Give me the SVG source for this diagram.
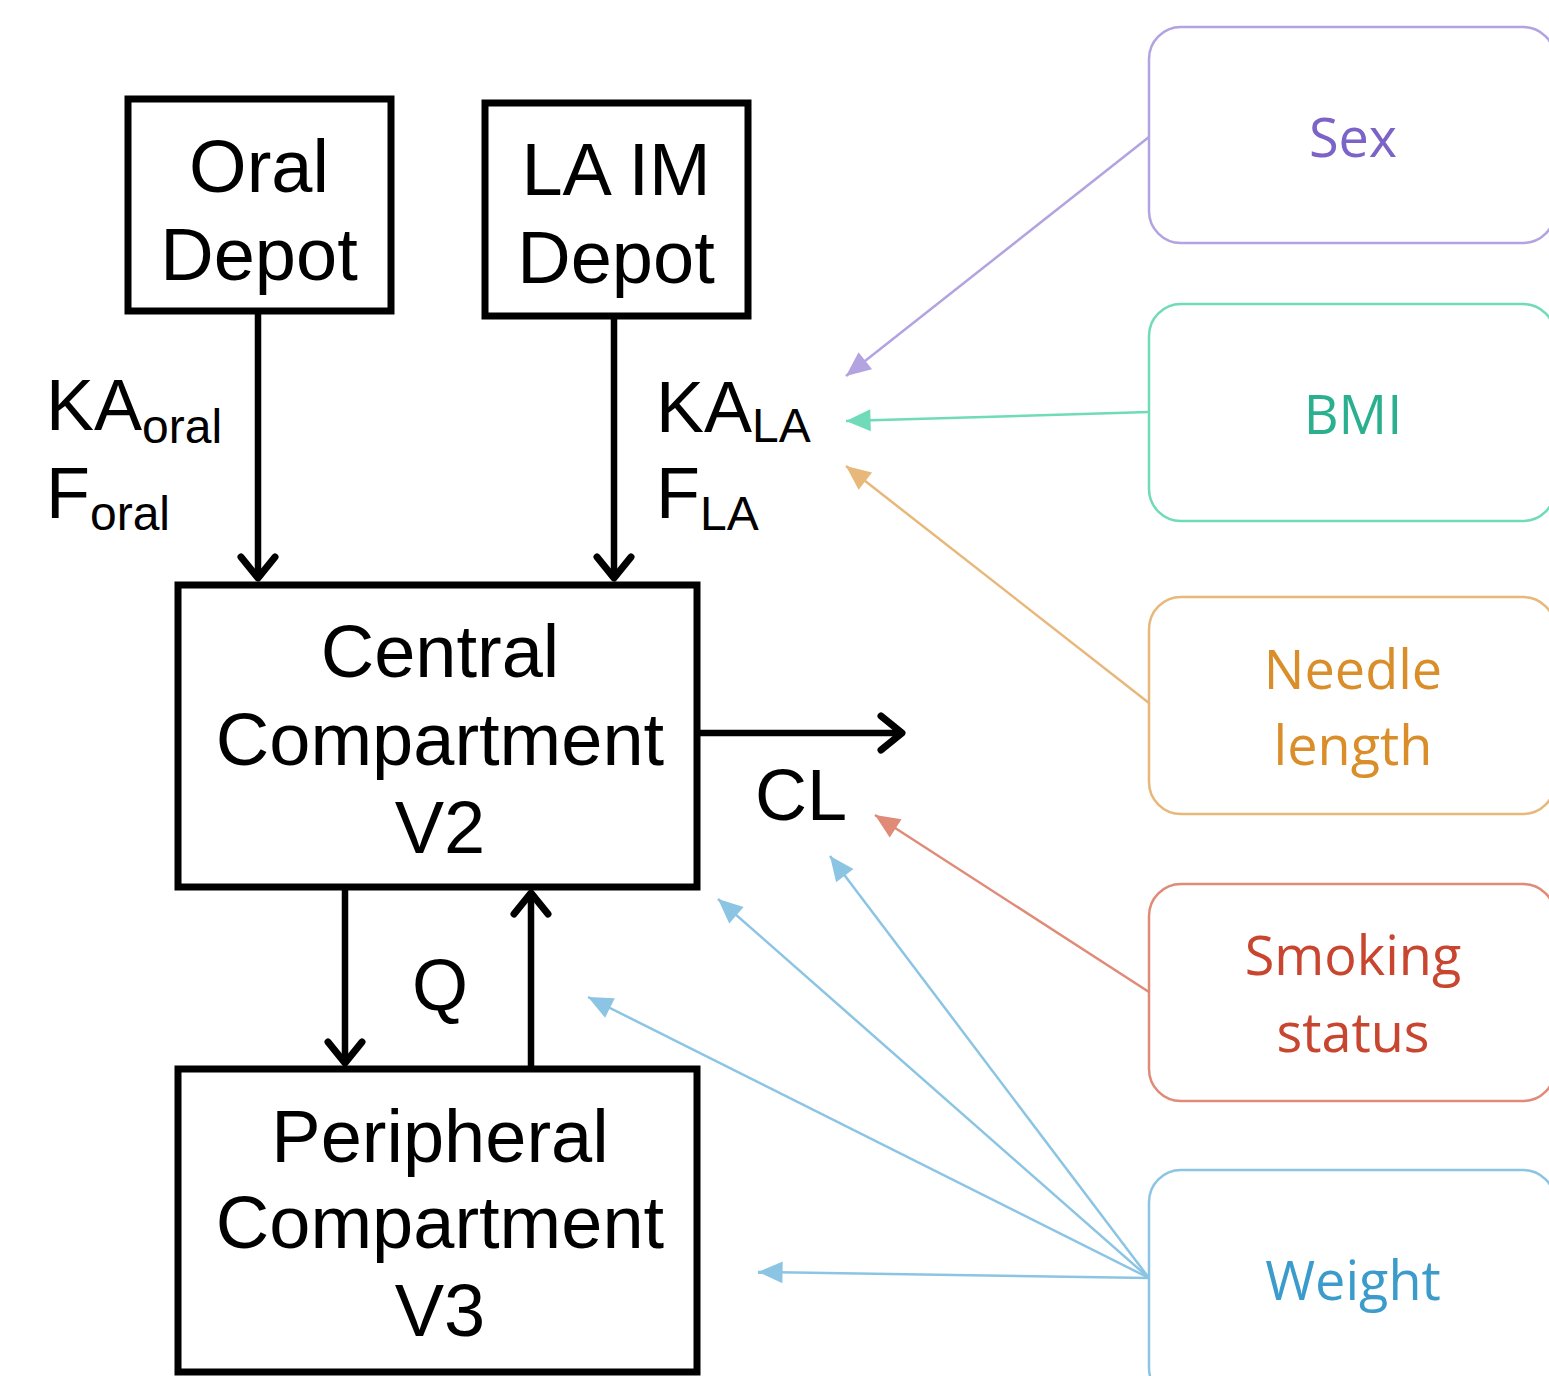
<svg xmlns="http://www.w3.org/2000/svg" width="1549" height="1376" viewBox="0 0 1549 1376">
<defs>
<style>
.box{fill:#fff;stroke:#000;stroke-width:7}
.bt{font-family:"Liberation Sans",Arial,sans-serif;font-size:74px;fill:#000;text-anchor:middle}
.lt{font-family:"Liberation Sans",Arial,sans-serif;font-size:72px;fill:#000}
.sub{font-size:48px}
.ck{fill:#fff;stroke-width:2.5}
.ct{font-family:"Open Sans","Noto Sans",sans-serif;font-size:54px;text-anchor:middle}
.blk{stroke:#000;stroke-width:6.5;fill:none}
.cl{stroke-width:2.5;fill:none}
</style>
<marker id="ah" markerUnits="userSpaceOnUse" markerWidth="50" markerHeight="50" refX="0" refY="0" viewBox="-30 -25 40 50" orient="auto">
<path d="M-21,-17 L0,0 L-21,17" fill="none" stroke="#000" stroke-width="7" stroke-linecap="round" stroke-linejoin="round"/>
</marker>
<marker id="mp" markerUnits="userSpaceOnUse" markerWidth="30" markerHeight="30" refX="0" refY="0" viewBox="-20 -10 22 20" orient="auto"><path d="M-18,-8 L0,0 L-18,8 Z" fill="#b3a3e0"/></marker>
<marker id="mg" markerUnits="userSpaceOnUse" markerWidth="30" markerHeight="30" refX="0" refY="0" viewBox="-20 -10 22 20" orient="auto"><path d="M-18,-8 L0,0 L-18,8 Z" fill="#6fdbb8"/></marker>
<marker id="mo" markerUnits="userSpaceOnUse" markerWidth="30" markerHeight="30" refX="0" refY="0" viewBox="-20 -10 22 20" orient="auto"><path d="M-18,-8 L0,0 L-18,8 Z" fill="#e8b87a"/></marker>
<marker id="mr" markerUnits="userSpaceOnUse" markerWidth="30" markerHeight="30" refX="0" refY="0" viewBox="-20 -10 22 20" orient="auto"><path d="M-18,-8 L0,0 L-18,8 Z" fill="#e08a78"/></marker>
<marker id="mb" markerUnits="userSpaceOnUse" markerWidth="30" markerHeight="30" refX="0" refY="0" viewBox="-20 -10 22 20" orient="auto"><path d="M-18,-8 L0,0 L-18,8 Z" fill="#8cc5e3"/></marker>
</defs>
<rect width="1549" height="1376" fill="#fff"/>

<g id="connectors">
<line class="blk" x1="258" y1="311" x2="258" y2="578" marker-end="url(#ah)"/>
<line class="blk" x1="614" y1="316" x2="614" y2="578" marker-end="url(#ah)"/>
<line class="blk" x1="697" y1="733" x2="902" y2="733" marker-end="url(#ah)"/>
<line class="blk" x1="345" y1="887" x2="345" y2="1063" marker-end="url(#ah)"/>
<line class="blk" x1="531" y1="1069" x2="531" y2="893" marker-end="url(#ah)"/>
<line class="cl" stroke="#b3a3e0" x1="1149" y1="137" x2="846" y2="376" marker-end="url(#mp)"/>
<line class="cl" stroke="#6fdbb8" x1="1149" y1="412" x2="846" y2="421" marker-end="url(#mg)"/>
<line class="cl" stroke="#e8b87a" x1="1149" y1="703" x2="846" y2="466" marker-end="url(#mo)"/>
<line class="cl" stroke="#e08a78" x1="1149" y1="992" x2="875" y2="815" marker-end="url(#mr)"/>
<line class="cl" stroke="#8cc5e3" x1="1149" y1="1278" x2="830" y2="856" marker-end="url(#mb)"/>
<line class="cl" stroke="#8cc5e3" x1="1149" y1="1278" x2="718" y2="899" marker-end="url(#mb)"/>
<line class="cl" stroke="#8cc5e3" x1="1149" y1="1278" x2="588" y2="997" marker-end="url(#mb)"/>
<line class="cl" stroke="#8cc5e3" x1="1149" y1="1278" x2="758" y2="1272" marker-end="url(#mb)"/>
</g>

<g id="oral-depot">
<rect class="box" x="128" y="99" width="263" height="212"/>
<text class="bt" x="259" y="192">Oral</text>
<text class="bt" x="259" y="280">Depot</text>
</g>
<g id="la-im-depot">
<rect class="box" x="485" y="103" width="263" height="213"/>
<text class="bt" x="616" y="195">LA IM</text>
<text class="bt" x="616" y="283">Depot</text>
</g>
<g id="central">
<rect class="box" x="178" y="585" width="519" height="302"/>
<text class="bt" x="440" y="677">Central</text>
<text class="bt" x="440" y="765">Compartment</text>
<text class="bt" x="440" y="853">V2</text>
</g>
<g id="peripheral">
<rect class="box" x="178" y="1069" width="519" height="303"/>
<text class="bt" x="440" y="1162">Peripheral</text>
<text class="bt" x="440" y="1248">Compartment</text>
<text class="bt" x="440" y="1336">V3</text>
</g>

<g id="labels">
<text class="lt" x="46" y="430">KA<tspan class="sub" dy="13">oral</tspan></text>
<text class="lt" x="46" y="518">F<tspan class="sub" dy="12">oral</tspan></text>
<text class="lt" x="656" y="432">KA<tspan class="sub" dy="10">LA</tspan></text>
<text class="lt" x="656" y="518">F<tspan class="sub" dy="12">LA</tspan></text>
<text class="lt" x="755" y="820">CL</text>
<text class="lt" x="440" y="1010" text-anchor="middle">Q</text>
</g>

<g id="sex">
<rect class="ck" stroke="#b3a3e0" x="1149" y="27" width="406" height="216" rx="32"/>
<text class="ct" fill="#7b63c8" x="1353" y="157">Sex</text>
</g>
<g id="bmi">
<rect class="ck" stroke="#6fdbb8" x="1149" y="304" width="406" height="217" rx="32"/>
<text class="ct" fill="#2bb08f" x="1353" y="434">BMI</text>
</g>
<g id="needle">
<rect class="ck" stroke="#e8b87a" x="1149" y="597" width="406" height="217" rx="32"/>
<text class="ct" fill="#d98e2a" x="1353" y="689">Needle</text>
<text class="ct" fill="#d98e2a" x="1353" y="765">length</text>
</g>
<g id="smoking">
<rect class="ck" stroke="#e08a78" x="1149" y="884" width="406" height="217" rx="32"/>
<text class="ct" fill="#c8452f" x="1353" y="975">Smoking</text>
<text class="ct" fill="#c8452f" x="1353" y="1052">status</text>
</g>
<g id="weight">
<rect class="ck" stroke="#8cc5e3" x="1149" y="1170" width="406" height="230" rx="32"/>
<text class="ct" fill="#3b9ccc" x="1353" y="1300">Weight</text>
</g>
</svg>
